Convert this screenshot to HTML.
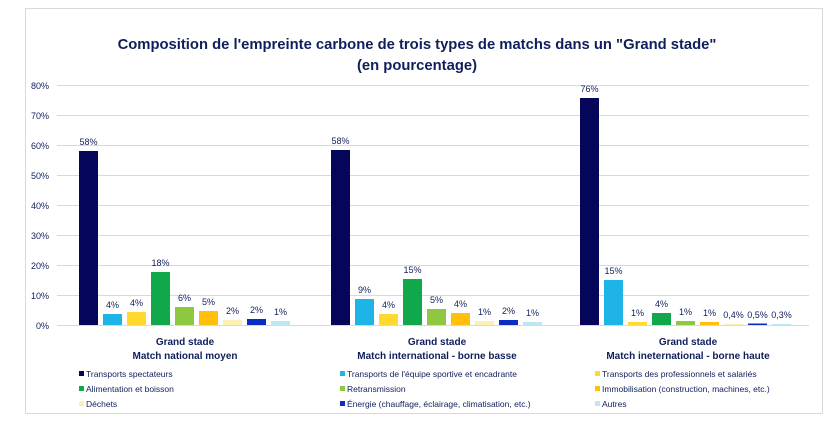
<!DOCTYPE html>
<html><head><meta charset="utf-8"><style>
body{margin:0;background:#fff;}
svg{display:block;font-family:"Liberation Sans",sans-serif;}
</style></head><body>
<svg width="834" height="426" viewBox="0 0 834 426">
<rect x="25.5" y="8.5" width="797" height="405" fill="#fff" stroke="#d9d9d9"/>
<text x="417" y="49" text-anchor="middle" font-size="14.8" font-weight="bold" fill="#0f1f5c">Composition de l'empreinte carbone de trois types de matchs dans un "Grand stade"</text>
<text x="417" y="70" text-anchor="middle" font-size="14.8" font-weight="bold" fill="#0f1f5c">(en pourcentage)</text>
<g stroke="#d9d9d9" stroke-width="1">
<line x1="57" x2="809" y1="85.5" y2="85.5"/><line x1="57" x2="809" y1="115.5" y2="115.5"/><line x1="57" x2="809" y1="145.5" y2="145.5"/><line x1="57" x2="809" y1="175.5" y2="175.5"/><line x1="57" x2="809" y1="205.5" y2="205.5"/><line x1="57" x2="809" y1="235.5" y2="235.5"/><line x1="57" x2="809" y1="265.5" y2="265.5"/><line x1="57" x2="809" y1="295.5" y2="295.5"/><line x1="57" x2="809" y1="325.5" y2="325.5"/>
</g>
<g font-size="9" fill="#0f1f5c" text-anchor="end">
<text x="49" y="89">80%</text><text x="49" y="119">70%</text><text x="49" y="149">60%</text><text x="49" y="179">50%</text><text x="49" y="209">40%</text><text x="49" y="239">30%</text><text x="49" y="269">20%</text><text x="49" y="299">10%</text><text x="49" y="329">0%</text>
</g>
<g>
<rect x="79" y="151" width="19" height="174" fill="#05055a"/>
<rect x="103" y="314" width="19" height="11" fill="#1eb4e8"/>
<rect x="127" y="312" width="19" height="13" fill="#ffd92e"/>
<rect x="151" y="272" width="19" height="53" fill="#11a84b"/>
<rect x="175" y="307" width="19" height="18" fill="#8dc840"/>
<rect x="199" y="311" width="19" height="14" fill="#ffbf0a"/>
<rect x="223" y="320" width="19" height="5" fill="#fdf0b4"/>
<rect x="247" y="319" width="19" height="6" fill="#0a2ec2"/>
<rect x="271" y="321" width="19" height="4" fill="#bde7f7"/>

<rect x="331" y="150" width="19" height="175" fill="#05055a"/>
<rect x="355" y="299" width="19" height="26" fill="#1eb4e8"/>
<rect x="379" y="314" width="19" height="11" fill="#ffd92e"/>
<rect x="403" y="279" width="19" height="46" fill="#11a84b"/>
<rect x="427" y="309" width="19" height="16" fill="#8dc840"/>
<rect x="451" y="313" width="19" height="12" fill="#ffbf0a"/>
<rect x="475" y="321" width="19" height="4" fill="#fdf0b4"/>
<rect x="499" y="320" width="19" height="5" fill="#0a2ec2"/>
<rect x="523" y="322" width="19" height="3" fill="#bde7f7"/>

<rect x="580" y="98" width="19" height="227" fill="#05055a"/>
<rect x="604" y="280" width="19" height="45" fill="#1eb4e8"/>
<rect x="628" y="322" width="19" height="3" fill="#ffd92e"/>
<rect x="652" y="313" width="19" height="12" fill="#11a84b"/>
<rect x="676" y="321" width="19" height="4" fill="#8dc840"/>
<rect x="700" y="322" width="19" height="3" fill="#ffbf0a"/>
<rect x="724" y="324" width="19" height="1" fill="#fdf0b4"/>
<rect x="748" y="323.5" width="19" height="1.5" fill="#0a2ec2"/>
<rect x="772" y="324" width="19" height="1" fill="#bde7f7"/>
</g>
<g font-size="9" fill="#0f1f5c" text-anchor="middle">
<text x="88.5" y="145">58%</text><text x="112.5" y="308">4%</text><text x="136.5" y="306">4%</text><text x="160.5" y="266">18%</text><text x="184.5" y="301">6%</text><text x="208.5" y="305">5%</text><text x="232.5" y="314">2%</text><text x="256.5" y="313">2%</text><text x="280.5" y="315">1%</text>
<text x="340.5" y="144">58%</text><text x="364.5" y="293">9%</text><text x="388.5" y="308">4%</text><text x="412.5" y="273">15%</text><text x="436.5" y="303">5%</text><text x="460.5" y="307">4%</text><text x="484.5" y="315">1%</text><text x="508.5" y="314">2%</text><text x="532.5" y="316">1%</text>
<text x="589.5" y="92">76%</text><text x="613.5" y="274">15%</text><text x="637.5" y="316">1%</text><text x="661.5" y="307">4%</text><text x="685.5" y="315">1%</text><text x="709.5" y="316">1%</text><text x="733.5" y="318">0,4%</text><text x="757.5" y="318">0,5%</text><text x="781.5" y="318">0,3%</text>
</g>
<g font-size="10" font-weight="bold" fill="#0f1f5c" text-anchor="middle">
<text x="185" y="345">Grand stade</text><text x="185" y="359">Match national moyen</text>
<text x="437" y="345">Grand stade</text><text x="437" y="359">Match international - borne basse</text>
<text x="688" y="345">Grand stade</text><text x="688" y="359">Match ineternational - borne haute</text>
</g>
<g font-size="8.5" fill="#0f1f5c">
<rect x="79" y="371" width="5" height="5" fill="#05055a"/><text x="86" y="377">Transports spectateurs</text>
<rect x="79" y="386" width="5" height="5" fill="#11a84b"/><text x="86" y="392">Alimentation et boisson</text>
<rect x="79" y="401" width="5" height="5" fill="#fdf0b4"/><text x="86" y="407">Déchets</text>
<rect x="340" y="371" width="5" height="5" fill="#1eb4e8"/><text x="347" y="377">Transports de l'équipe sportive et encadrante</text>
<rect x="340" y="386" width="5" height="5" fill="#8dc840"/><text x="347" y="392">Retransmission</text>
<rect x="340" y="401" width="5" height="5" fill="#0a2ec2"/><text x="347" y="407">Énergie (chauffage, éclairage, climatisation, etc.)</text>
<rect x="595" y="371" width="5" height="5" fill="#ffd92e"/><text x="602" y="377">Transports des professionnels et salariés</text>
<rect x="595" y="386" width="5" height="5" fill="#ffbf0a"/><text x="602" y="392">Immobilisation (construction, machines, etc.)</text>
<rect x="595" y="401" width="5" height="5" fill="#bde7f7"/><text x="602" y="407">Autres</text>
</g>
</svg>
</body></html>
